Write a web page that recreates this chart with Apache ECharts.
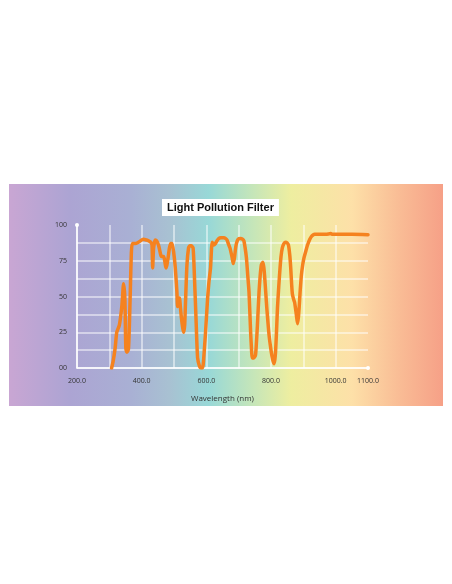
<!DOCTYPE html>
<html>
<head>
<meta charset="utf-8">
<script src="https://cdn.jsdelivr.net/npm/echarts@6/dist/echarts.min.js"></script>
<style>
html,body{margin:0;padding:0;background:#ffffff;}
#chart{width:452px;height:584px;}
</style>
</head>
<body>
<div id="chart"></div>
<script>
const titleText = "Light Pollution Filter";
const xAxisName = "Wavelength (nm)";
const xLabelValues = [200, 400, 600, 800, 1000, 1100];
const yLabelValues = [0, 25, 50, 75, 100];

const wavelength = [307,312,318,323,331,339,344,348,351,354,359,362,365,368,371,380,390,400,406,415,421,428,432,434,437,442,446,452,458,461,468,472,475,478,481,486,490,494,499,504,509,511,514,517,520,523,527,530,533,535,540,545,549,553,559,563,568,573,579,583,587,590,592,597,604,608,613,618,623,628,633,638,645,654,660,664,668,673,680,683,687,690,693,698,706,712,716,720,724,728,732,737,740,742,747,752,755,758,763,766,770,775,778,780,784,787,794,801,805,809,812,814,817,820,824,828,831,835,840,845,850,854,858,861,864,866,870,873,878,882,885,887,890,894,898,902,908,913,920,925,930,935,950,970,985,990,1010,1050,1100];
const transmission = [0,5,14,25,30,44,59,49,14,11,13,30,55,80,87,87,88,89.5,90,89.5,89,88,86,70,84,89.5,89,86,80,78,78,74,70,72,76,84,87,87,81,70,53,43,47,49,42,35,28,25,30,42,72,84,85.5,85.5,84,65,35,7,1,0,0,2,7,23,49,60,70,88,86,87,89,90.5,91,91,90.5,89.5,87,84,77,73,77,83,87,90,90.5,90,89,84,77,65,53,25,12,7,7,9,18,30,53,63,72,74,70,65,52,42,23,11,6,3,6,11,25,42,57,70,78,84,87,88,87.5,86,79,70,58,52,48,46,38,31,36,42,53,65,72,77,82,86,90,92,93,93.5,93.5,93.5,94,93.5,93.5,93.5,93.2];

const seriesData = wavelength.map((w, i) => [w, transmission[i]]);

const chart = echarts.init(document.getElementById('chart'), null, {renderer: 'canvas'});
const gridLine = 'rgba(255,255,255,0.65)';
const none = 'rgba(0,0,0,0)';
chart.setOption({
  animation: false,
  backgroundColor: '#ffffff',
  graphic: {
    elements: [{
      type: 'rect',
      z: -10,
      silent: true,
      shape: {x: 9, y: 184, width: 434, height: 222},
      style: {
        fill: {
          type: 'linear', x: 0, y: 0, x2: 1, y2: 0,
          colorStops: [
            {offset: 0, color: '#c9a6d3'},
            {offset: 0.14, color: '#aca4d3'},
            {offset: 0.28, color: '#a9b0d4'},
            {offset: 0.37, color: '#a8c1d2'},
            {offset: 0.46, color: '#98d8d7'},
            {offset: 0.555, color: '#c2e5bb'},
            {offset: 0.65, color: '#eeeea0'},
            {offset: 0.79, color: '#fde0a8'},
            {offset: 0.90, color: '#f9bc95'},
            {offset: 1, color: '#f6a087'}
          ]
        }
      }
    }]
  },
  title: {
    text: titleText,
    left: 162,
    top: 199,
    padding: [2, 5, 2, 5],
    backgroundColor: '#ffffff',
    textStyle: {fontFamily: 'Liberation Sans, Arial, sans-serif', fontSize: 11, fontWeight: 'bold', color: '#111111', lineHeight: 13}
  },
  grid: {left: 77, right: 84, top: 225, bottom: 216, containLabel: false},
  xAxis: {
    type: 'value',
    min: 200,
    max: 1100,
    interval: 100,
    name: xAxisName,
    nameLocation: 'middle',
    nameGap: 27,
    nameTextStyle: {fontFamily: 'Open Sans, sans-serif', fontSize: 8, color: '#333333'},
    axisLine: {show: true, symbol: ['none', 'circle'], symbolSize: [4, 4], lineStyle: {color: '#ffffff', width: 1.5}},
    axisTick: {show: false},
    axisLabel: {
      show: true, margin: 9, fontFamily: 'Open Sans, sans-serif', fontSize: 7, color: '#333333',
      showMinLabel: true, showMaxLabel: true,
      formatter: v => xLabelValues.includes(v) ? v.toFixed(1) : ''
    },
    splitLine: {show: true, lineStyle: {color: [gridLine, gridLine, gridLine, gridLine, gridLine, gridLine, gridLine, gridLine, gridLine, none], width: 1.5}}
  },
  yAxis: {
    type: 'value',
    min: 0,
    max: 100,
    interval: 12.5,
    axisLine: {show: true, symbol: ['none', 'circle'], symbolSize: [4, 4], lineStyle: {color: '#ffffff', width: 1.5}},
    axisTick: {show: false},
    axisLabel: {
      show: true, margin: 10, fontFamily: 'Open Sans, sans-serif', fontSize: 7, color: '#333333',
      formatter: v => yLabelValues.includes(v) ? (v === 0 ? '00' : String(v)) : ''
    },
    splitLine: {show: true, lineStyle: {color: [gridLine, gridLine, gridLine, gridLine, gridLine, gridLine, gridLine, gridLine, none], width: 1.5}}
  },
  series: [{
    type: 'line',
    data: seriesData,
    showSymbol: false,
    symbol: 'none',
    smooth: 0.2,
    lineStyle: {color: '#f5821f', width: 3.5, cap: 'round', join: 'round'},
    z: 3
  }]
});
</script>
</body>
</html>
